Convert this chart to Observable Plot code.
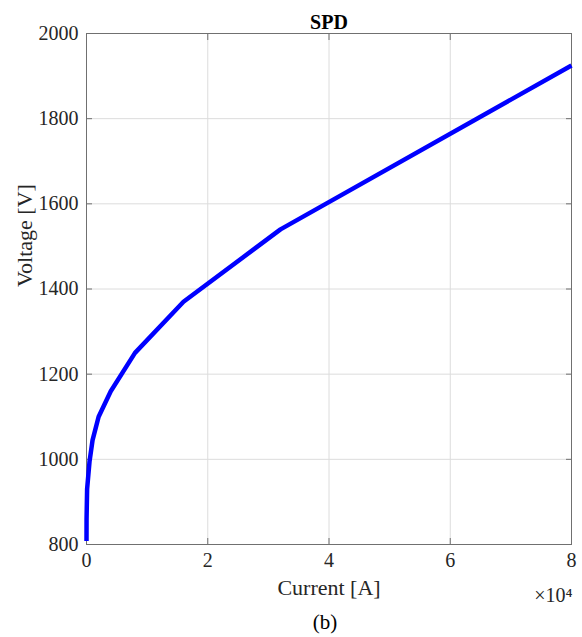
<!DOCTYPE html>
<html>
<head>
<meta charset="utf-8">
<script src="https://cdn.jsdelivr.net/npm/d3@7"></script>
<script src="https://cdn.jsdelivr.net/npm/@observablehq/plot@0.6"></script>
<style>
  html, body { margin: 0; padding: 0; background: #fff; }
  #chart svg { display: block; }
</style>
</head>
<body>
<div id="chart"></div>
<script>
const current = [1, 10, 100, 500, 1000, 2000, 4000, 8000, 16000, 32000, 80000];
const voltage = [808, 860, 930, 995, 1045, 1100, 1160, 1250, 1370, 1540, 1925];
const xTicks = [0, 20000, 40000, 60000, 80000];
const yTicks = [800, 1000, 1200, 1400, 1600, 1800, 2000];
const titleText = "SPD";
const xLabel = "Current [A]";
const yLabel = "Voltage [V]";
const exponentText = "×10⁴";
const captionText = "(b)";

const data = current.map((c, i) => ({current: c, voltage: voltage[i]}));
const font = "'Liberation Serif', 'Times New Roman', serif";
const axisColor = "#707070";

const chart = Plot.plot({
  width: 582,
  height: 637,
  marginLeft: 86,
  marginRight: 11,
  marginTop: 33,
  marginBottom: 93,
  style: {fontFamily: font, fontSize: "20px", color: "#262626", background: "#fff"},
  x: {domain: [0, 80000]},
  y: {domain: [800, 2000]},
  marks: [
    Plot.gridX(xTicks, {stroke: "#dcdcdc", strokeOpacity: 1}),
    Plot.gridY(yTicks, {stroke: "#dcdcdc", strokeOpacity: 1}),
    Plot.axisX(xTicks, {tickSize: 0, tickPadding: 8, tickFormat: d => d / 10000, label: null, fontSize: 20, fontFamily: font, fill: "#262626"}),
    Plot.axisX(xTicks, {tickSize: -6, text: null, label: null, stroke: axisColor}),
    Plot.axisX(xTicks, {anchor: "top", tickSize: -6, text: null, label: null, stroke: axisColor}),
    Plot.axisY(yTicks, {tickSize: 0, tickPadding: 8, tickFormat: d => String(d), label: null, fontSize: 20, fontFamily: font, fill: "#262626"}),
    Plot.axisY(yTicks, {tickSize: -6, text: null, label: null, stroke: axisColor}),
    Plot.axisY(yTicks, {anchor: "right", tickSize: -6, text: null, label: null, stroke: axisColor}),
    Plot.frame({stroke: axisColor, strokeOpacity: 1}),
    Plot.line(data, {x: "current", y: "voltage", stroke: "#0000ff", strokeWidth: 4.5, strokeLinejoin: "round", strokeLinecap: "butt"}),
    Plot.text([titleText], {frameAnchor: "top", lineAnchor: "middle", dy: -11, text: d => d, fontWeight: "bold", fontSize: 20, fontFamily: font, fill: "#000"}),
    Plot.text([xLabel], {frameAnchor: "bottom", lineAnchor: "middle", dy: 43, text: d => d, fontSize: 22, fontFamily: font, fill: "#262626"}),
    Plot.text([exponentText], {frameAnchor: "bottom-right", lineAnchor: "middle", dy: 51, dx: 1, textAnchor: "end", text: d => d, fontSize: 20, fontFamily: font, fill: "#262626"}),
    Plot.text([yLabel], {frameAnchor: "left", dx: -62, dy: -2, rotate: -90, text: d => d, fontSize: 22, fontFamily: font, fill: "#262626"}),
    Plot.text([captionText], {frameAnchor: "bottom", lineAnchor: "middle", dy: 78, dx: -4, text: d => d, fontSize: 21, fontFamily: font, fill: "#000"})
  ]
});
document.getElementById("chart").append(chart);
</script>
</body>
</html>
